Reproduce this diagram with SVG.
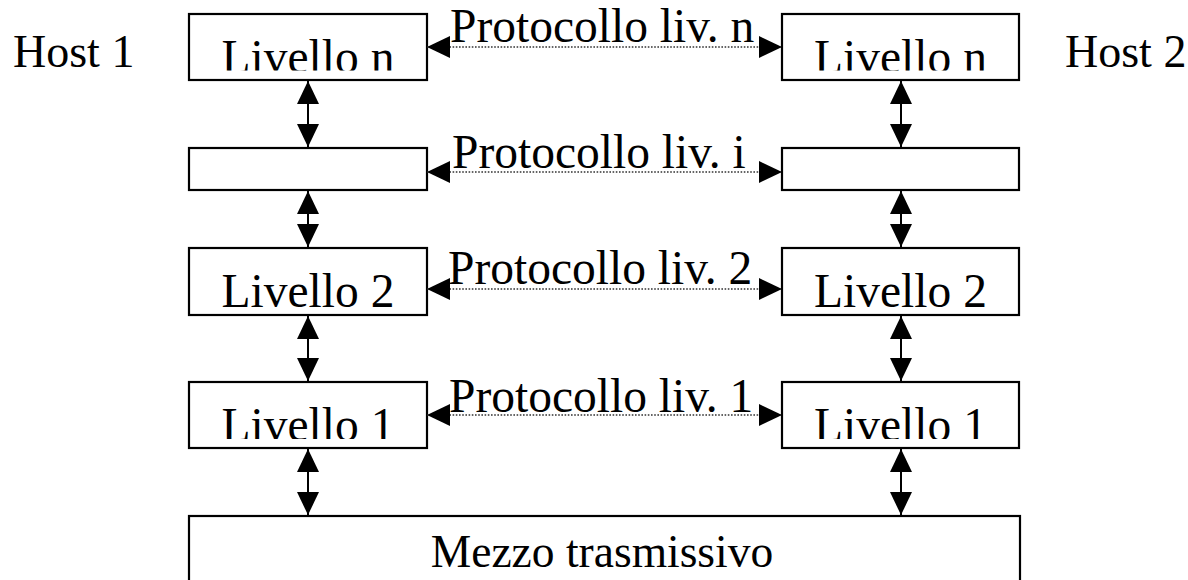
<svg xmlns="http://www.w3.org/2000/svg" width="1188" height="580" viewBox="0 0 1188 580">
  <style>
    .box { fill: #ffffff; stroke: #000000; stroke-width: 2.2; }
    .lbl { font-family: "Liberation Serif", "Times New Roman", serif; font-size: 46px; fill: #000000; }
    .big { font-size: 47.5px; }
    .mid { text-anchor: middle; }
    .vlink { stroke: #000000; stroke-width: 2; fill: none; marker-start: url(#head); marker-end: url(#head); }
    .hlink { stroke: #333333; stroke-width: 1.6; stroke-dasharray: 1.6 1.6; fill: none; marker-start: url(#head); marker-end: url(#head); }
  </style>
  <defs>
    <marker id="head" markerUnits="userSpaceOnUse" markerWidth="23" markerHeight="22" refX="23" refY="11" orient="auto-start-reverse" viewBox="0 0 23 22">
      <path d="M0,0 L23,11 L0,22 z" fill="#000000"/>
    </marker>
    <!-- layer labels overflow their boxes and are cut just above the baseline -->
    <clipPath id="clipL1n"><rect x="189" y="14" width="238" height="56.5"/></clipPath>
    <clipPath id="clipR1n"><rect x="782" y="14" width="237" height="56.5"/></clipPath>
    <clipPath id="clipL2"><rect x="189" y="248" width="238" height="59"/></clipPath>
    <clipPath id="clipR2"><rect x="782" y="248" width="237" height="59"/></clipPath>
    <clipPath id="clipL1"><rect x="189" y="382" width="238" height="57"/></clipPath>
    <clipPath id="clipR1"><rect x="782" y="382" width="237" height="57"/></clipPath>
  </defs>

  <rect width="1188" height="580" fill="#ffffff"/>

  <g id="host1-label"><text class="lbl" x="13" y="67">Host 1</text></g>
  <g id="host2-label"><text class="lbl" x="1065" y="67">Host 2</text></g>

  <!-- Host 1 stack -->
  <g id="h1-livello-n">
    <rect class="box" x="189" y="14" width="238" height="66"/>
    <text class="lbl big mid" x="308" y="73" clip-path="url(#clipL1n)">Livello n</text>
  </g>
  <g id="h1-livello-i">
    <rect class="box" x="189" y="148" width="238" height="42"/>
  </g>
  <g id="h1-livello-2">
    <rect class="box" x="189" y="248" width="238" height="67"/>
    <text class="lbl big mid" x="308" y="306.5" clip-path="url(#clipL2)">Livello 2</text>
  </g>
  <g id="h1-livello-1">
    <rect class="box" x="189" y="382" width="238" height="66"/>
    <text class="lbl big mid" x="308" y="441" clip-path="url(#clipL1)">Livello 1</text>
  </g>

  <!-- Host 2 stack -->
  <g id="h2-livello-n">
    <rect class="box" x="782" y="14" width="237" height="66"/>
    <text class="lbl big mid" x="900.5" y="73" clip-path="url(#clipR1n)">Livello n</text>
  </g>
  <g id="h2-livello-i">
    <rect class="box" x="782" y="148" width="237" height="42"/>
  </g>
  <g id="h2-livello-2">
    <rect class="box" x="782" y="248" width="237" height="67"/>
    <text class="lbl big mid" x="900.5" y="306.5" clip-path="url(#clipR2)">Livello 2</text>
  </g>
  <g id="h2-livello-1">
    <rect class="box" x="782" y="382" width="237" height="66"/>
    <text class="lbl big mid" x="900.5" y="441" clip-path="url(#clipR1)">Livello 1</text>
  </g>

  <!-- shared physical medium -->
  <g id="mezzo">
    <rect class="box" x="189" y="516" width="831" height="80"/>
    <text class="lbl mid" x="602" y="567" style="font-size:45.5px">Mezzo trasmissivo</text>
  </g>

  <!-- peer protocol labels -->
  <g id="protocol-labels">
    <text class="lbl big" x="450" y="42">Protocollo liv. n</text>
    <text class="lbl big" x="452" y="168">Protocollo liv. i</text>
    <text class="lbl big" x="448" y="284">Protocollo liv. 2</text>
    <text class="lbl big" x="449" y="412">Protocollo liv. 1</text>
  </g>

  <g id="connectors">
    <!-- peer-to-peer (virtual) links -->
    <line class="hlink" x1="427" y1="47" x2="782" y2="47"/>
    <line class="hlink" x1="427" y1="172" x2="782" y2="172"/>
    <line class="hlink" x1="427" y1="289" x2="782" y2="289"/>
    <line class="hlink" x1="427" y1="415" x2="782" y2="415"/>
    <!-- interfaces between adjacent layers, Host 1 -->
    <line class="vlink" x1="308" y1="81" x2="308" y2="147"/>
    <line class="vlink" x1="308" y1="191" x2="308" y2="247"/>
    <line class="vlink" x1="308" y1="316" x2="308" y2="381"/>
    <line class="vlink" x1="308" y1="449" x2="308" y2="515"/>
    <!-- interfaces between adjacent layers, Host 2 -->
    <line class="vlink" x1="901" y1="81" x2="901" y2="147"/>
    <line class="vlink" x1="901" y1="191" x2="901" y2="247"/>
    <line class="vlink" x1="901" y1="316" x2="901" y2="381"/>
    <line class="vlink" x1="901" y1="449" x2="901" y2="515"/>
  </g>
</svg>
